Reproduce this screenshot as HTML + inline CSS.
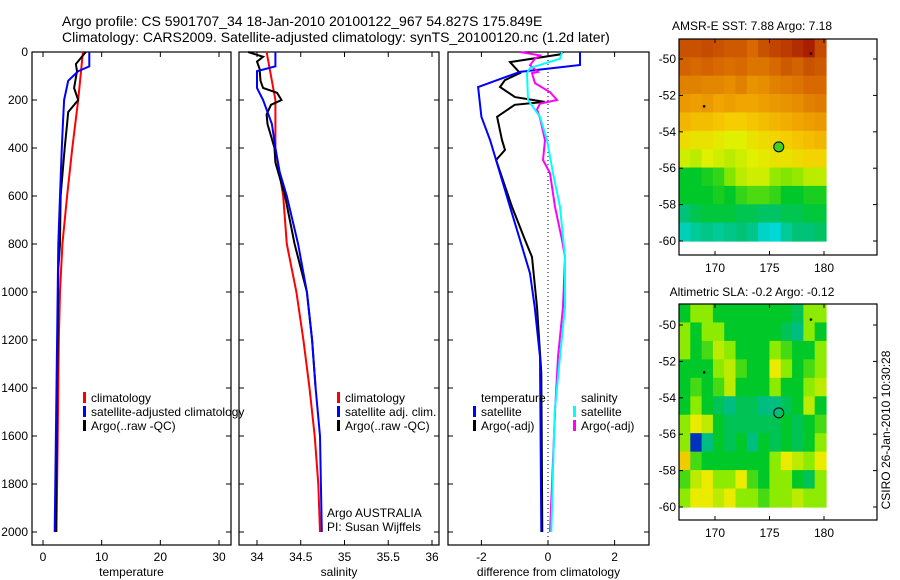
<!DOCTYPE html>
<html><head><meta charset="utf-8"><style>
body{margin:0;background:#fff;}
svg{display:block;font-family:"Liberation Sans",sans-serif;}
text{fill:#000;}
</style></head><body>
<svg id="s" width="900" height="580">
<text x="62" y="26" font-size="14">Argo profile: CS 5901707_34 18-Jan-2010 20100122_967 54.827S 175.849E</text>
<text x="62" y="42" font-size="14">Climatology: CARS2009. Satellite-adjusted climatology: synTS_20100120.nc (1.2d later)</text>
<text x="752" y="30" font-size="12" text-anchor="middle">AMSR-E SST: 7.88 Argo: 7.18</text>
<text x="752" y="296" font-size="12" text-anchor="middle">Altimetric SLA: -0.2 Argo: -0.12</text>
<text transform="translate(890,430) rotate(-90)" font-size="12" text-anchor="middle">CSIRO 26-Jan-2010 10:30:28</text>
</svg>
<script>
// ---- data ----
const depthTicks=[0,200,400,600,800,1000,1200,1400,1600,1800,2000];
const tempTicks=[0,10,20,30];
const salTicks=[34,34.5,35,35.5,36];
const salTickLabels=["34","34.5","35","35.5","36"];
const diffTicks=[-2,0,2];
const tClimD=[0,200,400,600,800,1000,1200,1400,1600,1800,2000];
const tClimV=[6.8,6.0,5.0,4.1,3.3,2.9,2.7,2.6,2.5,2.4,2.3];
const tSatD=[0,60,80,120,200,300,400,600,800,1000,1200,1600,2000];
const tSatV=[7.9,7.9,6.0,4.3,3.6,3.4,3.2,2.9,2.6,2.5,2.4,2.2,2.0];
const tArgD=[0,50,80,150,200,250,300,400,600,800,900,1200,1400,1700,2000];
const tArgV=[7.3,5.6,5.8,5.3,6.0,4.3,4.1,3.7,3.0,2.9,2.6,2.5,2.4,2.3,2.2];
const sClimD=[0,200,400,600,800,1000,1200,1400,1600,1800,2000];
const sClimV=[34.11,34.21,34.21,34.30,34.34,34.45,34.53,34.60,34.66,34.70,34.72];
const sSatD=[0,60,80,150,200,300,400,500,600,800,1000,1200,1400,1600,2000];
const sSatV=[34.21,34.21,34.0,34.0,34.07,34.17,34.21,34.26,34.34,34.47,34.57,34.63,34.67,34.72,34.74];
const sArgD=[0,20,40,70,120,150,170,200,220,260,300,400,460,600,800,1000,1200,1400];
const sArgV=[33.9,34.07,34.0,34.03,34.04,34.07,34.23,34.28,34.16,34.11,34.12,34.2,34.21,34.32,34.43,34.57,34.63,34.67];
const dTSatD=[0,54,83,146,270,367,505,645,783,922,1062,1270,2000];
const dTSatV=[0.96,0.96,-0.84,-2.1,-2.0,-1.74,-1.44,-1.14,-0.84,-0.54,-0.4,-0.24,-0.2];
const dTArgD=[0,10,42,88,117,146,188,208,220,270,367,408,450,645,783,854,1062,1337,2000];
const dTArgV=[0.45,0.36,-1.14,-0.84,-1.29,-1.44,-0.99,-0.1,-1.0,-1.53,-1.38,-1.29,-1.56,-1.08,-0.69,-0.48,-0.33,-0.2,-0.17];
const dSSatD=[0,28,67,88,200,270,367,505,645,854,1062,1270,1500,2000];
const dSSatV=[0.42,0.36,-0.54,-0.63,-0.6,-0.24,-0.03,0.15,0.36,0.51,0.51,0.36,0.2,0.1];
const dSArgD=[0,14,28,55,83,88,130,167,200,215,240,275,367,450,505,645,783,854,1062,1270,1500,2000];
const dSArgV=[-0.84,-0.24,-0.39,-0.54,-0.3,-0.48,-0.39,0.06,0.27,-0.24,-0.33,-0.24,-0.09,-0.15,0.06,0.21,0.42,0.51,0.45,0.3,0.21,0.06];
const lonTicks=[170,175,180];
const latTicks=[-50,-52,-54,-56,-58,-60];
const sstGrid=[
[9.3,9.3,9.4,9.3,9.2,9.2,9.0,9.3,9.5,9.6,9.8,10,9.4],
[9.1,9.0,9.1,9.0,8.9,9.0,8.8,8.8,9.0,9.2,9.1,9.3,9.2],
[8.6,8.6,8.5,8.5,8.4,8.6,8.3,8.4,8.6,8.7,8.8,9.0,9.0],
[8.2,8.1,8.2,8.0,8.1,8.0,8.0,8.1,8.2,8.3,8.4,8.6,8.7],
[7.8,7.7,7.7,7.6,7.5,7.5,7.6,7.7,7.8,7.9,8.0,8.1,8.2],
[7.3,7.2,7.2,7.1,7.0,7.0,7.2,7.3,7.4,7.5,7.6,7.7,7.8],
[6.9,6.8,7.0,6.9,6.8,6.9,7.0,7.1,7.2,7.2,7.3,7.4,7.4],
[6.0,6.0,6.1,6.2,6.5,6.8,6.9,6.9,6.6,6.5,6.6,6.8,6.8],
[6.0,6.0,6.0,6.1,6.0,6.2,6.3,6.3,6.2,6.0,6.0,6.1,6.1],
[5.6,5.8,5.9,5.9,5.9,5.8,5.8,5.7,5.7,5.8,5.8,5.9,5.9],
[5.2,5.4,5.5,5.4,5.5,5.6,5.5,5.1,5.0,5.4,5.6,5.6,5.7]];
const slaGrid=[
[0,0.1,0.1,0,0,0,0,0,0,0,-0.05,0.1,0.1],
[0.1,0,0.1,0.1,0,0,0,0,0,-0.05,-0.1,0.1,0],
[0.1,0,0.05,0.15,0.1,0,0,0,0.1,0.05,0,0,0.1],
[0,0,0,0.1,0.15,0.05,0,0,0.2,0.1,0,0.05,0.1],
[0,0.05,0,0.05,0.15,0,0,0,0.1,0,0,0.1,0.15],
[0,0.1,0,-0.05,-0.1,-0.05,-0.05,-0.1,-0.1,-0.05,0,0.15,0],
[0.1,0.2,0.15,0,-0.05,-0.05,-0.05,-0.05,-0.05,0,-0.05,0,0.05],
[0.1,-0.45,-0.1,0,-0.05,0,-0.1,0,-0.05,0,-0.05,0,0.1],
[0.25,0.05,0,0,0,0,0,0,0.1,0.2,0.15,0.1,0.2],
[0.05,0.15,0.2,0.1,0.1,0.2,0.05,0,0.1,0.1,0,-0.05,0.1],
[0.1,0.2,0.2,0.15,0.2,0.1,0.1,0.05,0.1,0.1,0.15,0.1,0.1]];
const floatLon=175.849, floatLat=-54.827;
const otherFloatsLon=[169.0,178.8], otherFloatsLat=[-52.6,-49.7];

// ---- drawing ----
const S=document.getElementById('s');const NS='http://www.w3.org/2000/svg';
function mk(t,a,p){const e=document.createElementNS(NS,t);for(const k in a)e.setAttribute(k,a[k]);(p||S).appendChild(e);return e;}
const yD=d=>52+d*0.24;
const panels=[
 {l:32,r:231,x:v=>43+v*5.867,ticks:tempTicks,labels:tempTicks.map(String),title:'temperature',name:'temperature-panel'},
 {l:239,r:439,x:v=>257+(v-34)*87.5,ticks:salTicks,labels:salTickLabels,title:'salinity',name:'salinity-panel'},
 {l:448,r:649,x:v=>548+v*33.3,ticks:diffTicks,labels:diffTicks.map(String),title:'difference from climatology',name:'difference-panel'}];
panels.forEach((p,i)=>{
 const g=mk('g',{});
 
 
 mk('rect',{x:p.l,y:52,width:p.r-p.l,height:493,fill:'none',stroke:'#000','stroke-width':1.2},g);
 depthTicks.forEach(d=>{const y=yD(d);
  mk('line',{x1:p.l,x2:p.l+5,y1:y,y2:y,stroke:'#000'},g);mk('line',{x1:p.r-5,x2:p.r,y1:y,y2:y,stroke:'#000'},g);
  if(i==0){const t=mk('text',{x:28,y:y+4,'font-size':12,'text-anchor':'end'},g);t.textContent=d;}});
 p.ticks.forEach((v,k)=>{const x=p.x(v);
  mk('line',{x1:x,x2:x,y1:540,y2:545,stroke:'#000'},g);mk('line',{x1:x,x2:x,y1:52,y2:57,stroke:'#000'},g);
  const t=mk('text',{x:x,y:561,'font-size':12,'text-anchor':'middle'},g);t.textContent=p.labels[k];});
 const t=mk('text',{x:(p.l+p.r)/2,y:576,'font-size':12,'text-anchor':'middle'},g);t.textContent=p.title;
});
mk('line',{x1:548,x2:548,y1:52,y2:545,stroke:'#000','stroke-dasharray':'1,3'});
function line(p,D,V,col,name){const pts=D.map((d,k)=>p.x(V[k]).toFixed(1)+','+yD(d).toFixed(1)).join(' ');
 const e=mk('polyline',{points:pts,fill:'none',stroke:col,'stroke-width':2});
 
 }
line(panels[0],tClimD,tClimV,'#f00','temp-climatology-line');
line(panels[0],tArgD,tArgV,'#000','temp-argo-line');
line(panels[0],tSatD,tSatV,'#00f','temp-satellite-line');
line(panels[1],sClimD,sClimV,'#f00','sal-climatology-line');
line(panels[1],sArgD,sArgV,'#000','sal-argo-line');
line(panels[1],sSatD,sSatV,'#00f','sal-satellite-line');
line(panels[2],dTArgD,dTArgV,'#000','diff-temp-argo-line');
line(panels[2],dTSatD,dTSatV,'#00f','diff-temp-satellite-line');
line(panels[2],dSArgD,dSArgV,'#f0f','diff-sal-argo-line');
line(panels[2],dSSatD,dSSatV,'#0ff','diff-sal-satellite-line');
function leg(x,y,col,txt,name){const g=mk('g',{});
 
 
 if(col)mk('rect',{x:x,y:y-10,width:3,height:11,fill:col},g);
 const t=mk('text',{x:x+8,y:y,'font-size':12},g);t.textContent=txt;}
leg(83,402,'#f00','climatology','legend-climatology');
leg(83,416,'#00f','satellite-adjusted climatology','legend-satellite-adjusted');
leg(83,430,'#000','Argo(..raw -QC)','legend-argo-raw');
leg(337,402,'#f00','climatology','legend-sal-climatology');
leg(337,416,'#00f','satellite adj. clim.','legend-sal-satellite');
leg(337,430,'#000','Argo(..raw -QC)','legend-sal-argo');
leg(319,517,null,'Argo AUSTRALIA','argo-australia-label');
leg(319,531,null,'PI: Susan Wijffels','pi-label');
leg(473,402,null,'temperature','legend-temp-heading');
leg(473,416,'#00f','satellite','legend-diff-temp-satellite');
leg(473,430,'#000','Argo(-adj)','legend-diff-temp-argo');
leg(573,402,null,'salinity','legend-sal-heading');
leg(573,416,'#0ff','satellite','legend-diff-sal-satellite');
leg(573,430,'#f0f','Argo(-adj)','legend-diff-sal-argo');
// maps
function rgb(a){return 'rgb('+a.join(',')+')';}
function interpC(stops,v){if(v<=stops[0][0])return rgb(stops[0][1]);for(let i=1;i<stops.length;i++){if(v<=stops[i][0]){const a=stops[i-1],b=stops[i],f=(v-a[0])/(b[0]-a[0]);return rgb(a[1].map((c,k)=>Math.round(c+(b[1][k]-c)*f)));}}return rgb(stops[stops.length-1][1]);}
const sstStops=[[5.0,[0,215,215]],[5.6,[0,195,120]],[6.0,[0,200,40]],[6.5,[130,230,0]],[7.0,[225,240,0]],[7.5,[245,205,0]],[8.0,[240,165,0]],[9.0,[215,105,0]],[10,[170,30,0]]];
const slaStops=[[-0.5,[0,20,160]],[-0.35,[0,110,255]],[-0.2,[0,210,230]],[-0.1,[0,190,130]],[0,[0,200,40]],[0.1,[140,235,0]],[0.2,[235,235,0]],[0.3,[245,170,0]]];
function map(top,grid,stops,name,mlat){const L=679,R=877,IR=826,B=top+216;
 const latY=la=>mlat+(-50-la)*18.2; const lonX=lo=>715+(lo-170)*10.9;
 const g=mk('g',{});
 
 
 const rows=grid.length,cols=grid[0].length,ch=(latY(-60)-top)/rows,cw=(IR-L)/cols;
 grid.forEach((row,r)=>row.forEach((v,c)=>{mk('rect',{x:(L+c*cw).toFixed(2),y:(top+r*ch).toFixed(2),width:(cw+0.6).toFixed(2),height:(ch+0.6).toFixed(2),fill:interpC(stops,v)},g);}));
 mk('rect',{x:L,y:top,width:R-L,height:B-top,fill:'none',stroke:'#000','stroke-width':1.2},g);
 latTicks.forEach(la=>{const y=latY(la);mk('line',{x1:L,x2:L+4,y1:y,y2:y,stroke:'#000'},g);mk('line',{x1:R-4,x2:R,y1:y,y2:y,stroke:'#000'},g);
  const t=mk('text',{x:676,y:y+4,'font-size':12,'text-anchor':'end'},g);t.textContent=la;});
 lonTicks.forEach(lo=>{const x=lonX(lo);mk('line',{x1:x,x2:x,y1:B-4,y2:B,stroke:'#000'},g);mk('line',{x1:x,x2:x,y1:top,y2:top+4,stroke:'#000'},g);
  const t=mk('text',{x:x,y:B+17,'font-size':12,'text-anchor':'middle'},g);t.textContent=lo;});
 otherFloatsLon.forEach((lo,k)=>mk('circle',{cx:lonX(lo),cy:latY(otherFloatsLat[k]),r:1.3,fill:'#000'},g));
 const c=mk('circle',{cx:lonX(floatLon),cy:latY(floatLat),r:5,fill:name=='sst-map'?'#40d020':'none',stroke:'#000'},g);
 
 }
map(39,sstGrid,sstStops,'sst-map',59);
map(304,slaGrid,slaStops,'sla-map',325);
</script>
</body></html>
